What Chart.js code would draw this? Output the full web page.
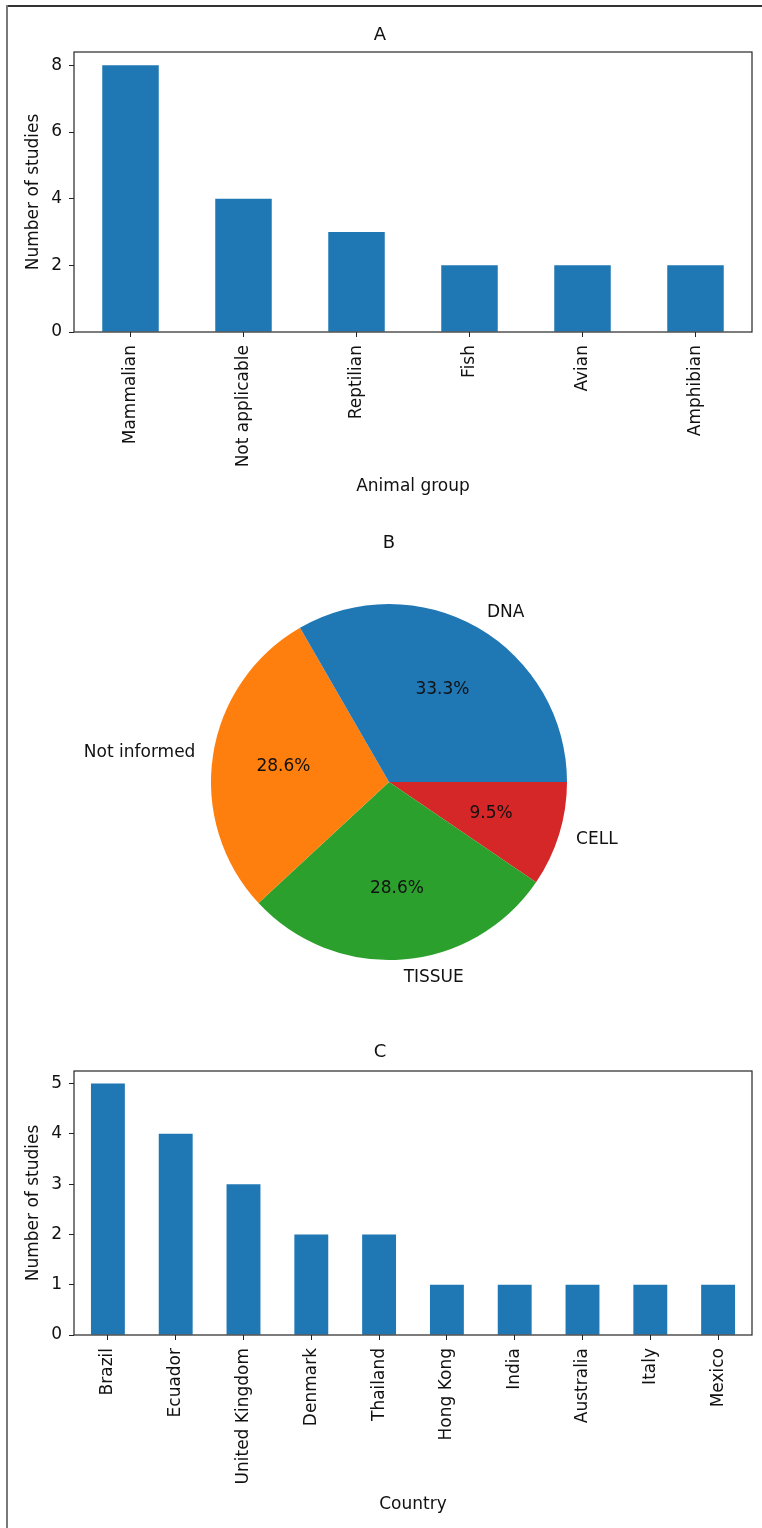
<!DOCTYPE html>
<html>
<head>
<meta charset="utf-8">
<script src="https://cdn.jsdelivr.net/npm/chart.js@4"></script>
<style>
  body { margin: 0; background: #fff; }
  #page { position: relative; width: 762px; height: 1528px; overflow: hidden; background: #fff; }
  .frame-top { position: absolute; left: 6px; top: 5px; width: 756px; height: 0; border-top: 2px solid #333; }
  .frame-left { position: absolute; left: 6px; top: 5px; width: 0; height: 1523px; border-left: 2px solid #7a7a7a; }
  canvas { position: absolute; left: 8px; }
</style>
</head>
<body>
<div id="page">
  <div class="frame-top"></div>
  <div class="frame-left"></div>
  <canvas id="chart-a" width="754" height="500" style="top:8px"></canvas>
  <canvas id="chart-b" width="754" height="500" style="top:515px"></canvas>
  <canvas id="chart-c" width="754" height="512" style="top:1016px"></canvas>
</div>
<script>
// A - animal groups
const animalGroups = ['Mammalian', 'Not applicable', 'Reptilian', 'Fish', 'Avian', 'Amphibian'];
const animalStudies = [8, 4, 3, 2, 2, 2];
const animalTicks = [0, 2, 4, 6, 8];

// B - sample types
const sampleTypes = ['DNA', 'Not informed', 'TISSUE', 'CELL'];
const sampleStudies = [7, 6, 6, 2];
const sampleColors = ['#1f77b4', '#ff7f0e', '#2ca02c', '#d62728'];

// C - countries
const countries = ['Brazil', 'Ecuador', 'United Kingdom', 'Denmark', 'Thailand', 'Hong Kong', 'India', 'Australia', 'Italy', 'Mexico'];
const countryStudies = [5, 4, 3, 2, 2, 1, 1, 1, 1, 1];
const countryTicks = [0, 1, 2, 3, 4, 5];

Chart.defaults.font.family = "'DejaVu Sans', sans-serif";
Chart.defaults.font.size = 17;
Chart.defaults.color = '#111';
Chart.defaults.animation = false;

// box around the plot area, like matplotlib spines
const frame = {
  id: 'frame',
  afterDatasetsDraw(chart) {
    const { ctx, chartArea: a } = chart;
    ctx.save();
    ctx.strokeStyle = '#262626';
    ctx.lineWidth = 1.2;
    ctx.strokeRect(a.left, a.top, a.right - a.left, a.bottom - a.top);
    ctx.restore();
  }
};

// pie labels outside and percentages inside
const pieLabels = {
  id: 'pieLabels',
  afterDatasetsDraw(chart) {
    const { ctx } = chart;
    const meta = chart.getDatasetMeta(0);
    const values = chart.data.datasets[0].data;
    const total = values.reduce((s, v) => s + v, 0);
    ctx.save();
    ctx.font = "17px 'DejaVu Sans', sans-serif";
    ctx.fillStyle = '#111';
    ctx.textBaseline = 'middle';
    meta.data.forEach((arc, i) => {
      const { x, y, startAngle, endAngle, outerRadius } =
        arc.getProps(['x', 'y', 'startAngle', 'endAngle', 'outerRadius'], true);
      const mid = (startAngle + endAngle) / 2;
      const cos = Math.cos(mid), sin = Math.sin(mid);
      ctx.textAlign = 'center';
      ctx.fillText((values[i] / total * 100).toFixed(1) + '%',
        x + cos * outerRadius * 0.6, y + sin * outerRadius * 0.6);
      ctx.textAlign = cos > 0 ? 'left' : 'right';
      ctx.fillText(chart.data.labels[i], x + cos * outerRadius * 1.1, y + sin * outerRadius * 1.1);
    });
    ctx.restore();
  }
};

function barChart(id, labels, values, ticks, yMax, title, xTitle, sizes) {
  return new Chart(document.getElementById(id), {
    type: 'bar',
    data: {
      labels: labels,
      datasets: [{
        data: values,
        backgroundColor: '#1f77b4',
        borderWidth: 0,
        barPercentage: 0.5,
        categoryPercentage: 1.0
      }]
    },
    options: {
      responsive: false,
      devicePixelRatio: 1,
      layout: { padding: { left: 0, right: 10, top: 0, bottom: 0 } },
      plugins: {
        legend: { display: false },
        tooltip: { enabled: false },
        title: {
          display: true,
          text: title,
          color: '#111',
          font: { size: 18, weight: 'normal', lineHeight: 1.2 },
          padding: { top: sizes.titleTop, bottom: sizes.titleBottom }
        }
      },
      scales: {
        x: {
          offset: true,
          border: { display: false },
          grid: { display: true, drawOnChartArea: false, drawTicks: true, tickLength: 5, color: '#222', offset: false },
          ticks: { minRotation: 90, maxRotation: 90, autoSkip: false, padding: 8 },
          title: { display: true, text: xTitle, padding: { top: 0, bottom: sizes.xTitleBottom } },
          afterFit: s => { s.height = sizes.xHeight; }
        },
        y: {
          min: 0,
          max: yMax,
          border: { display: false },
          grid: { display: true, drawOnChartArea: false, drawTicks: true, tickLength: 5, color: '#222' },
          ticks: { padding: 7 },
          afterBuildTicks: s => { s.ticks = ticks.map(v => ({ value: v })); },
          title: { display: true, text: 'Number of studies', padding: { top: 15.3, bottom: 0 } },
          afterFit: s => { s.width = 66; }
        }
      }
    },
    plugins: [frame]
  });
}

barChart('chart-a', animalGroups, animalStudies, animalTicks, 8.4, 'A', 'Animal group',
  { titleTop: 16.2, titleBottom: 6.2, xHeight: 176, xTitleBottom: 10.8 });

barChart('chart-c', countries, countryStudies, countryTicks, 5.25, 'C', 'Country',
  { titleTop: 25.2, titleBottom: 8.2, xHeight: 193, xTitleBottom: 12.8 });

// matplotlib draws counter-clockwise from 3 o'clock; Chart.js goes clockwise, so reverse the order
new Chart(document.getElementById('chart-b'), {
  type: 'pie',
  data: {
    labels: sampleTypes.slice().reverse(),
    datasets: [{
      data: sampleStudies.slice().reverse(),
      backgroundColor: sampleColors.slice().reverse(),
      borderWidth: 0
    }]
  },
  options: {
    responsive: false,
    devicePixelRatio: 1,
    rotation: 90,
    radius: 178,
    layout: { padding: { left: 203, right: 195, top: 0, bottom: 55 } },
    plugins: {
      legend: { display: false },
      tooltip: { enabled: false },
      title: {
        display: true,
        text: 'B',
        color: '#111',
        font: { size: 18, weight: 'normal', lineHeight: 1.2 },
        padding: { top: 17.2, bottom: 50.2 }
      }
    }
  },
  plugins: [pieLabels]
});
</script>
</body>
</html>
